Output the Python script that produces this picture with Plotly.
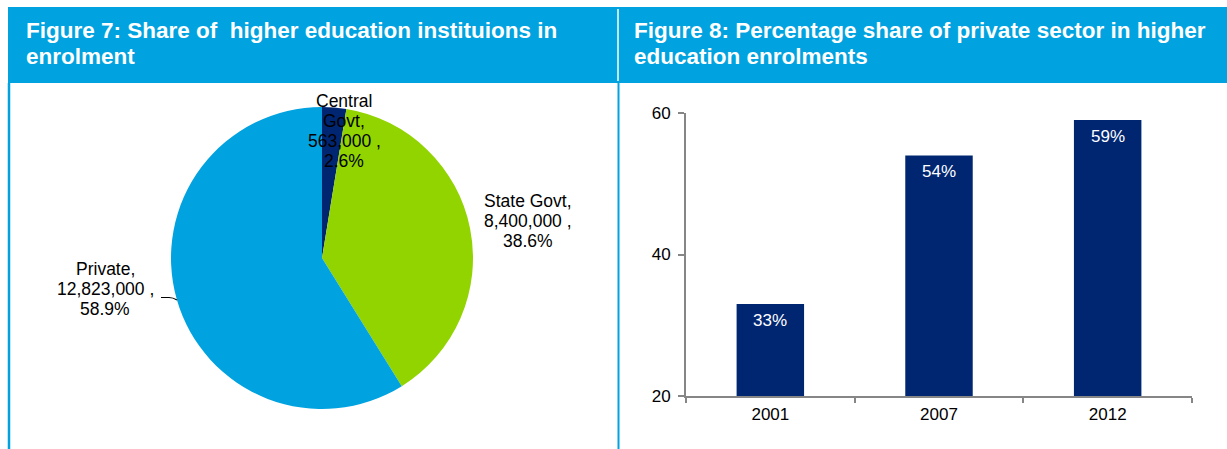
import plotly.graph_objects as go

# ---- data ----
pie_labels = ["Central Govt", "State Govt", "Private"]
pie_label_lines = [["Central", "Govt,"], ["State Govt,"], ["Private,"]]
pie_values = [563000, 8400000, 12823000]
pie_shares = [2.6, 38.6, 58.9]
pie_colors = ["#002672", "#92D400", "#00A3E0"]

bar_years = ["2001", "2007", "2012"]
bar_values = [33, 54, 59]
bar_color = "#002672"

yticks = [20, 40, 60]

title_left = ["Figure 7: Share of\u00a0 higher education instituions in", "enrolment"]
title_right = ["Figure 8: Percentage share of private sector in higher", "education enrolments"]

W, H = 1227, 449
HEADER = "#00A3E0"
AXIS = "#868686"
FONT = "Arial, Liberation Sans, sans-serif"


def px(x):
    return x / W


def py(y):
    return 1 - y / H


fig = go.Figure()

# pie chart
fig.add_trace(go.Pie(
    labels=pie_labels,
    values=pie_values,
    sort=False,
    direction="clockwise",
    rotation=0,
    automargin=False,
    marker=dict(colors=pie_colors, line=dict(width=0)),
    textinfo="none",
    hoverinfo="label+value+percent",
    showlegend=False,
    domain=dict(x=[px(171), px(473)], y=[py(409), py(107)]),
))

# bar chart
fig.add_trace(go.Bar(
    x=bar_years,
    y=bar_values,
    marker=dict(color=bar_color, line=dict(width=0)),
    width=0.4,
    showlegend=False,
    xaxis="x", yaxis="y",
))

fig.update_layout(
    width=W, height=H,
    margin=dict(l=0, r=0, t=0, b=0, autoexpand=False),
    paper_bgcolor="white",
    plot_bgcolor="white",
    showlegend=False,
    font=dict(family=FONT, size=17, color="#000000"),
    xaxis=dict(
        domain=[px(686), px(1192)],
        anchor="y",
        type="category",
        categoryorder="array", categoryarray=bar_years,
        range=[-0.5, len(bar_years) - 0.5],
        automargin=False,
        showline=True, linecolor=AXIS, linewidth=2,
        ticks="outside", tickson="boundaries", ticklen=5, tickcolor=AXIS, tickwidth=1.5,
        ticklabelstandoff=2,
        showgrid=False, zeroline=False,
        tickfont=dict(size=17, color="#000000"),
    ),
    yaxis=dict(
        domain=[py(396), py(113)],
        anchor="x",
        range=[20, 60],
        tickvals=yticks,
        automargin=False,
        showline=True, linecolor=AXIS, linewidth=2,
        ticks="outside", ticklen=6, tickcolor=AXIS, tickwidth=1.5,
        ticklabelstandoff=4,
        showgrid=False, zeroline=False,
        tickfont=dict(size=17, color="#000000"),
    ),
)

shapes = []
# header bands
shapes.append(dict(type="rect", xref="paper", yref="paper",
                   x0=px(8), x1=px(1227), y0=py(83), y1=py(7),
                   fillcolor=HEADER, line=dict(width=0), layer="below"))
# divider between the two headers
shapes.append(dict(type="line", xref="paper", yref="paper",
                   x0=px(618), x1=px(618), y0=py(81), y1=py(9),
                   line=dict(color="white", width=1.5)))
# panel side borders
shapes.append(dict(type="line", xref="paper", yref="paper",
                   x0=px(9), x1=px(9), y0=0, y1=py(83),
                   line=dict(color=HEADER, width=2.5)))
shapes.append(dict(type="line", xref="paper", yref="paper",
                   x0=px(618.5), x1=px(618.5), y0=0, y1=py(83),
                   line=dict(color=HEADER, width=2)))
# leader line for the Private label
shapes.append(dict(type="path", xref="paper", yref="paper",
                   path=f"M {px(161)} {py(297.5)} L {px(169)} {py(297.5)} Q {px(173)} {py(297.5)} {px(177)} {py(300)}",
                   line=dict(color="black", width=1.2)))
fig.update_layout(shapes=shapes)

annotations = []
# header titles
for lines, x0 in ((title_left, 24), (title_right, 632)):
    for i, line in enumerate(lines):
        annotations.append(dict(
            text=line, xref="paper", yref="paper",
            x=px(x0), y=py(30 + 27 * i), xanchor="left", yanchor="middle",
            showarrow=False,
            font=dict(family=FONT, size=22.5, color="white", weight="bold"),
        ))

# pie labels: name, value and share, one line at a time
label_pos = [(344, 101), (528, 201), (105, 269)]
LINE_STEP = 20
for name_lines, val, share, (lx, ly) in zip(pie_label_lines, pie_values, pie_shares, label_pos):
    lines = name_lines + [f"{val:,} ,", f"{share}%"]
    for i, line in enumerate(lines):
        annotations.append(dict(
            text=line, xref="paper", yref="paper",
            x=px(lx), y=py(ly + LINE_STEP * i), xanchor="center", yanchor="middle",
            showarrow=False,
            font=dict(family=FONT, size=17.5, color="#000000"),
        ))

# value labels just inside the top of each bar (x given as category index)
for idx, v in enumerate(bar_values):
    annotations.append(dict(
        text=f"{v}%", xref="x", yref="y", x=idx, y=v,
        xanchor="center", yanchor="middle", yshift=-16,
        showarrow=False,
        font=dict(family=FONT, size=17, color="white"),
    ))
fig.update_layout(annotations=annotations)

fig.write_html("out.html")
